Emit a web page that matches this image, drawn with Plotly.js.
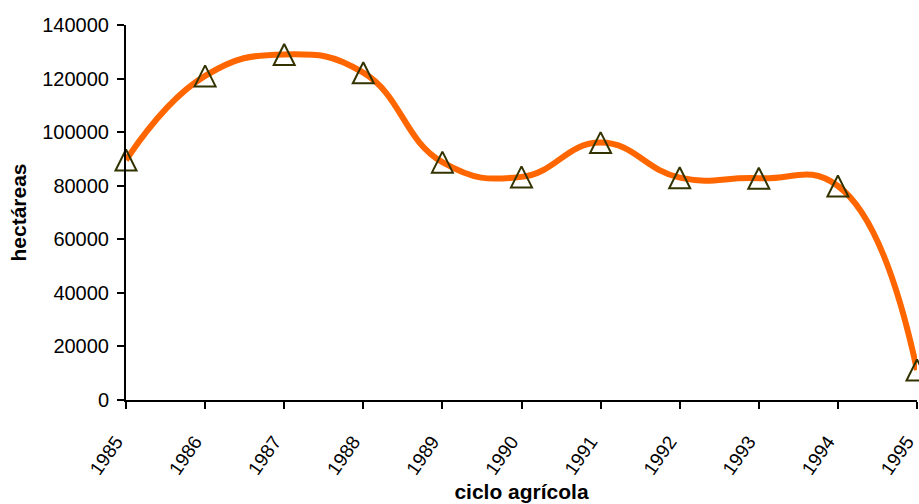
<!DOCTYPE html>
<html>
<head>
<meta charset="utf-8">
<script src="https://cdn.plot.ly/plotly-3.0.1.min.js"></script>
<style>
  html, body { margin: 0; padding: 0; background: #fff; }
  #chart { width: 919px; height: 504px; }
</style>
</head>
<body>
<div id="chart"></div>
<script>
const years = [1985, 1986, 1987, 1988, 1989, 1990, 1991, 1992, 1993, 1994, 1995];
const hectareas = [89600, 121000, 129000, 122200, 88800, 83300, 96100, 83000, 82800, 79900, 11200];
const yTicks = [0, 20000, 40000, 60000, 80000, 100000, 120000, 140000];
const xTitle = 'ciclo agrícola';
const yTitle = 'hectáreas';

const FONT = 'Liberation Sans, Arial, sans-serif';
const markerSize = 21;

const trace = {
  x: years,
  y: hectareas,
  type: 'scatter',
  mode: 'lines+markers',
  line: { color: '#FF6600', width: 6, shape: 'spline', smoothing: 1.3 },
  marker: {
    symbol: 'arrow-down-open',
    angle: 180,
    standoff: markerSize / 2,
    size: markerSize,
    color: '#333300',
    line: { color: '#333300', width: 2 }
  },
  cliponaxis: false,
  hoverinfo: 'x+y'
};

const layout = {
  width: 919,
  height: 504,
  margin: { l: 126, r: 2, t: 25, b: 104 },
  paper_bgcolor: '#ffffff',
  plot_bgcolor: '#ffffff',
  showlegend: false,
  font: { family: FONT, color: '#000000', size: 20 },
  xaxis: {
    range: [years[0], years[years.length - 1]],
    tickvals: years,
    ticktext: years.map(String),
    tickangle: -55,
    ticks: 'outside',
    ticklen: 7,
    tickwidth: 2,
    tickcolor: '#000',
    ticklabelstandoff: 14,
    ticklabelshift: -10,
    ticklabeloverflow: 'allow',
    showline: true,
    linecolor: '#000',
    linewidth: 2,
    showgrid: false,
    zeroline: false,
    automargin: false,
    tickfont: { family: FONT, size: 19, color: '#000' },
    title: { text: xTitle, font: { family: FONT, size: 21, color: '#000', weight: 'bold' }, standoff: 7 }
  },
  yaxis: {
    range: [0, 140000],
    tickvals: yTicks,
    ticktext: yTicks.map(String),
    ticks: 'outside',
    ticklen: 7,
    tickwidth: 2,
    tickcolor: '#000',
    ticklabelstandoff: 4,
    showline: true,
    linecolor: '#000',
    linewidth: 2,
    showgrid: false,
    zeroline: false,
    automargin: false,
    tickfont: { family: FONT, size: 20, color: '#000' },
    title: { text: yTitle, font: { family: FONT, size: 21, color: '#000', weight: 'bold' }, standoff: 10 }
  },
  xaxis2: {
    overlaying: 'x', anchor: 'y',
    range: [years[0], years[years.length - 1]],
    tickvals: years, showticklabels: false,
    ticks: 'inside', ticklen: 7, tickwidth: 2, tickcolor: '#000',
    showline: false, showgrid: false, zeroline: false
  },
  yaxis2: {
    overlaying: 'y', anchor: 'x', side: 'left',
    range: [0, 140000],
    tickvals: yTicks, showticklabels: false,
    ticks: 'inside', ticklen: 7, tickwidth: 2, tickcolor: '#000',
    showline: false, showgrid: false, zeroline: false
  }
};

Plotly.newPlot('chart', [trace], layout, { displayModeBar: false, staticPlot: true });
</script>
</body>
</html>
